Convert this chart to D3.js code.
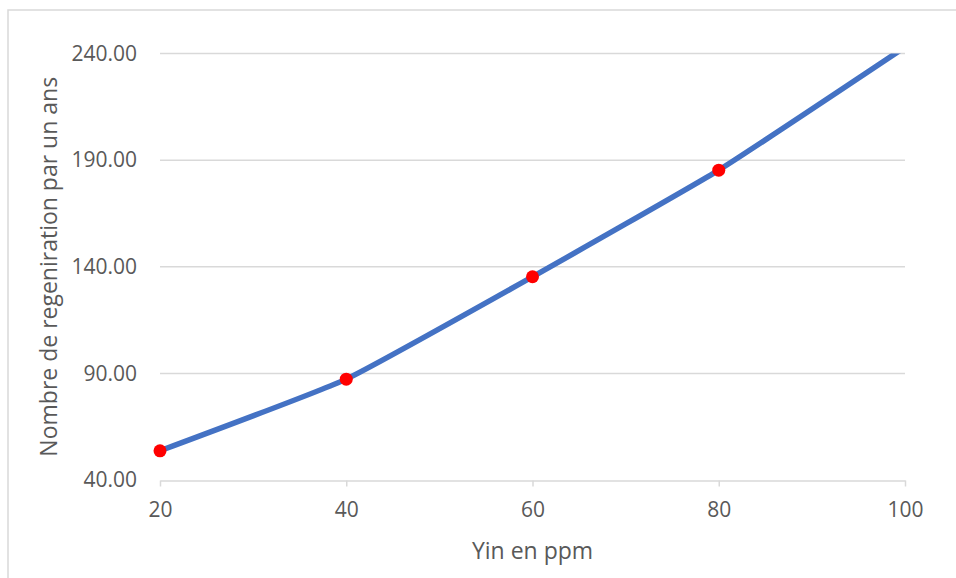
<!DOCTYPE html>
<html>
<head>
<meta charset="utf-8">
<script src="https://cdn.jsdelivr.net/npm/d3@7"></script>
<style>
    body { margin: 0; background: #fff; }
    svg { display: block; font-family: "Open Sans", sans-serif; }
</style>
</head>
<body>
<script>
//data
var yinPpm = [20, 40, 60, 80, 100];            // x values (ppm)
var regenerations = [53.7, 87.3, 135.3, 185.3, 243]; // smoothed line values
var markerPpm = [20, 40, 60, 80];              // points drawn with a red marker
var markerValues = [53.7, 87.3, 135.3, 185.3];
var xTickValues = [20, 40, 60, 80, 100];
var yTickValues = [40, 90, 140, 190, 240];
var xTitle = "Yin en ppm";
var yTitle = "Nombre de regeniration par un ans";

(function(){

    var width = 956,
        height = 578;

    var svg = d3.select("body")
        .append("svg")
        .attr("width", width)
        .attr("height", height);

    //chart frame (right and bottom edges fall outside the picture)
    svg.append("rect")
        .attr("x", 8)
        .attr("y", 10)
        .attr("width", 960)
        .attr("height", 600)
        .attr("fill", "#fff")
        .attr("stroke", "#d9d9d9")
        .attr("stroke-width", 1.5);

    var x = d3.scaleLinear().domain([20, 100]).range([160, 905]);
    var y = d3.scaleLinear().domain([40, 240]).range([480, 53.5]);

    //horizontal gridlines
    svg.selectAll(".grid")
        .data(yTickValues.slice(1))
        .enter()
        .append("line")
        .attr("class", "grid")
        .attr("x1", x(20))
        .attr("x2", x(100))
        .attr("y1", function(d){ return y(d); })
        .attr("y2", function(d){ return y(d); })
        .attr("stroke", "#d9d9d9")
        .attr("stroke-width", 1.5);

    //y axis labels
    var yAxis = d3.axisLeft(y)
        .tickValues(yTickValues)
        .tickFormat(d3.format(".2f"))
        .tickSize(0)
        .tickPadding(23);
    var yG = svg.append("g")
        .attr("transform", "translate(" + x(20) + ",0)")
        .call(yAxis);
    yG.select(".domain").remove();
    yG.selectAll("text")
        .attr("fill", "#595959")
        .style("font-size", "21px")
        .style("font-family", "Open Sans, sans-serif");

    //x axis
    var xAxis = d3.axisBottom(x)
        .tickValues(xTickValues)
        .tickFormat(d3.format("d"))
        .tickSizeInner(6)
        .tickSizeOuter(0)
        .tickPadding(16);
    var xG = svg.append("g")
        .attr("transform", "translate(0," + (y(40) + 0.5) + ")")
        .call(xAxis);
    xG.select(".domain").attr("stroke", "#d9d9d9").attr("stroke-width", 1.5);
    xG.selectAll("line").attr("stroke", "#d9d9d9").attr("stroke-width", 1.5);
    xG.selectAll("text")
        .attr("fill", "#595959")
        .style("font-size", "21px")
        .style("font-family", "Open Sans, sans-serif");

    //clip the line to the plot area
    svg.append("clipPath")
        .attr("id", "plotClip")
        .append("rect")
        .attr("x", x(20) - 10)
        .attr("y", y(240))
        .attr("width", x(100) - x(20) + 20)
        .attr("height", y(40) - y(240) + 10);

    var line = d3.line()
        .x(function(d, i){ return x(yinPpm[i]); })
        .y(function(d){ return y(d); })
        .curve(d3.curveCardinal.tension(0.6));

    svg.append("path")
        .datum(regenerations)
        .attr("clip-path", "url(#plotClip)")
        .attr("d", line)
        .attr("fill", "none")
        .attr("stroke", "#4472c4")
        .attr("stroke-width", 5.5)
        .attr("stroke-linecap", "butt");

    //red markers
    svg.selectAll(".marker")
        .data(markerValues)
        .enter()
        .append("circle")
        .attr("class", "marker")
        .attr("cx", function(d, i){ return x(markerPpm[i]); })
        .attr("cy", function(d){ return y(d); })
        .attr("r", 6.5)
        .attr("fill", "#ff0000");

    //axis titles
    svg.append("text")
        .attr("x", (x(20) + x(100)) / 2)
        .attr("y", 559)
        .attr("text-anchor", "middle")
        .attr("fill", "#595959")
        .style("font-size", "23px")
        .text(xTitle);

    svg.append("text")
        .attr("transform", "translate(57," + ((y(40) + y(240)) / 2) + ") rotate(-90)")
        .attr("text-anchor", "middle")
        .attr("fill", "#595959")
        .style("font-size", "23px")
        .text(yTitle);

})();
</script>
</body>
</html>
